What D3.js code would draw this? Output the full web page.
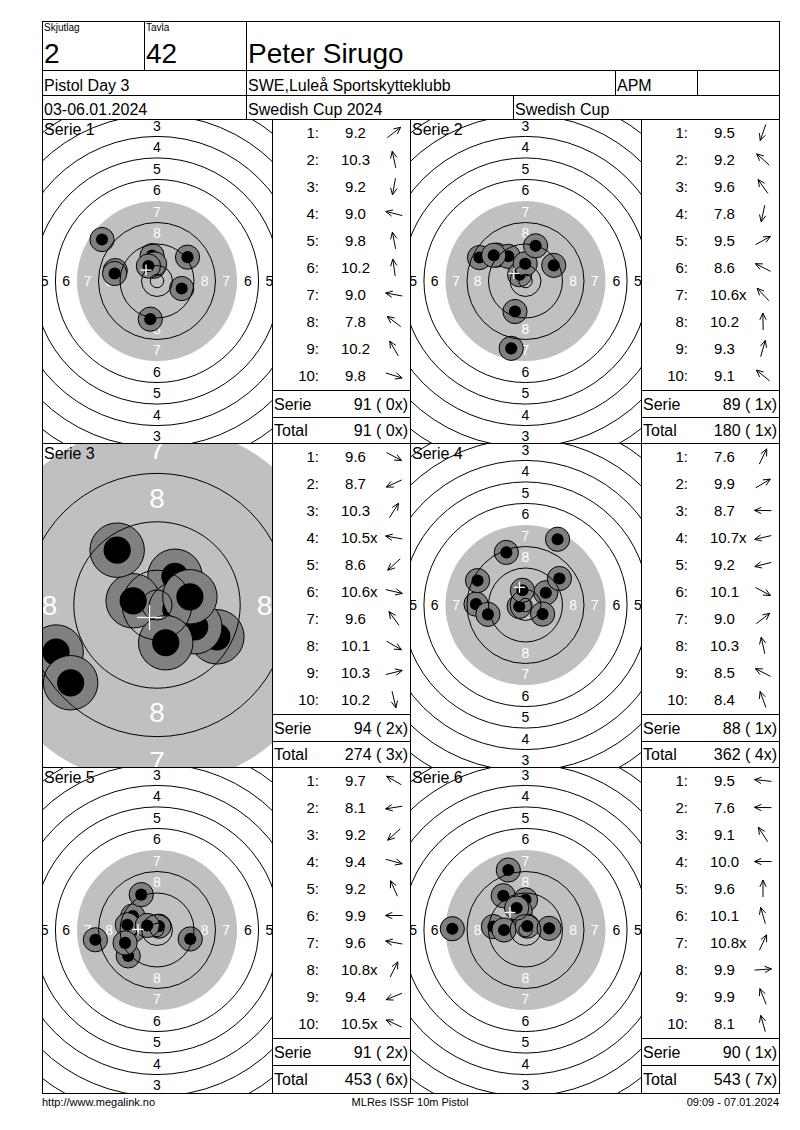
<!DOCTYPE html>
<html>
<head>
<meta charset="utf-8">
<script src="https://cdn.jsdelivr.net/npm/d3@7"></script>
<style>
  body { margin: 0; background: #fff; }
  svg text { font-family: "Liberation Sans", Arial, sans-serif; white-space: pre; }
</style>
</head>
<body>
<div id="card"></div>
<script>
const headerLabels = ["Skjutlag", "Tavla"];
const headerValues = ["2", "42"];
const shooterName = "Peter Sirugo";
const infoRow1 = ["Pistol Day 3", "SWE,Luleå Sportskytteklubb", "APM", ""];
const infoRow2 = ["03-06.01.2024", "Swedish Cup 2024", "Swedish Cup"];
const footerTexts = ["http://www.megalink.no", "MLRes ISSF 10m Pistol", "09:09 - 07.01.2024"];

const serieNames = ["Serie 1", "Serie 2", "Serie 3", "Serie 4", "Serie 5", "Serie 6"];
const serieScores = [
    [9.2, 10.3, 9.2, 9.0, 9.8, 10.2, 9.0, 7.8, 10.2, 9.8],
    [9.5, 9.2, 9.6, 7.8, 9.5, 8.6, 10.6, 10.2, 9.3, 9.1],
    [9.6, 8.7, 10.3, 10.5, 8.6, 10.6, 9.6, 10.1, 10.3, 10.2],
    [7.6, 9.9, 8.7, 10.7, 9.2, 10.1, 9.0, 10.3, 8.5, 8.4],
    [9.7, 8.1, 9.2, 9.4, 9.2, 9.9, 9.6, 10.8, 9.4, 10.5],
    [9.5, 7.6, 9.1, 10.0, 9.6, 10.1, 10.8, 9.9, 9.9, 8.1]
];
// direction of each shot from the centre, degrees (0 = right, 90 = up)
const shotAngles = [
    [38, 102, 260, 166, 101, 98, 170, 143, 120, -17],
    [251, 138, 125, 258, 29, 153, 133, 91, 74, 141],
    [-28, 205, 58, 170, 222, -13, 126, -30, 14, 283],
    [64, 31, 179, 193, 194, -28, 38, 102, 153, 110],
    [150, 189, 222, -15, 114, 180, 170, 63, 202, 155],
    [174, 179, 123, 180, 90, 106, 65, 4, 112, 106]
];
const targetZoom = [1, 1, 2.25, 1, 1, 1];

// ---- layout ----
const W = 800, H = 1130;
const box = { left: 42, right: 779, top: 21, bottom: 1093 };
const headerY = [21, 70, 95, 119];
const panelY = [119, 443, 767, 1093];
const targetX = [42, 410];
const tableX = [272, 641];
const tableEnd = [410, 779];
const PX_PER_MM = 2.69;
const ROW_H = 27;

const svg = d3.select("#card").append("svg")
    .attr("width", W).attr("height", H)
    .attr("viewBox", `0 0 ${W} ${H}`);

const defs = svg.append("defs");

function line(g, x1, y1, x2, y2) {
    g.append("line")
        .attr("x1", x1).attr("y1", y1).attr("x2", x2).attr("y2", y2)
        .attr("stroke", "#000").attr("stroke-width", 1)
        .attr("shape-rendering", "crispEdges");
}

function label(g, x, y, txt, size, anchor = "start", fill = "#000") {
    return g.append("text")
        .attr("x", x).attr("y", y)
        .attr("font-size", size)
        .attr("text-anchor", anchor)
        .attr("fill", fill)
        .text(txt);
}

// ---- targets ----
function ringRadius(n) { return 5.75 + 8 * (10 - n); }   // mm, ISSF 10m air pistol

function drawTarget(i) {
    const col = i % 2, row = Math.floor(i / 2);
    const x0 = targetX[col], x1 = tableX[col];
    const y0 = panelY[row], y1 = panelY[row + 1];
    const cx = (x0 + x1) / 2, cy = (y0 + y1) / 2;
    const zoom = targetZoom[i];
    const k = PX_PER_MM * zoom;

    const x = d3.scaleLinear().domain([0, 1]).range([cx, cx + k]);
    const y = d3.scaleLinear().domain([0, 1]).range([cy, cy - k]);

    defs.append("clipPath").attr("id", "clip" + i)
        .append("rect").attr("x", x0).attr("y", y0)
        .attr("width", x1 - x0).attr("height", y1 - y0);

    const g = svg.append("g").attr("clip-path", `url(#clip${i})`);

    // aiming area (7 ring and inside)
    g.append("circle").attr("cx", x(0)).attr("cy", y(0))
        .attr("r", x(ringRadius(7)) - x(0)).attr("fill", "#c0c0c0");

    // ring numbers, only those that reach into the panel
    const fs = 14 * Math.pow(zoom, 0.85);
    const nums = [];
    d3.range(1, 9).forEach(n => {
        const rr = ringRadius(n) - 4;
        [[0, rr], [0, -rr], [rr, 0], [-rr, 0]].forEach(p => nums.push({ n, p }));
    });
    const visible = nums.filter(d => {
        const px = x(d.p[0]), py = y(d.p[1]);
        return px > x0 - fs * 0.2 && px < x1 + fs * 0.2 && py > y0 - fs * 0.2 && py < y1 + fs * 0.2;
    });
    g.selectAll("text.num").data(visible).join("text")
        .attr("class", "num")
        .attr("x", d => x(d.p[0])).attr("y", d => y(d.p[1]))
        .attr("dy", "0.36em")
        .attr("text-anchor", "middle")
        .attr("font-size", fs)
        .attr("fill", d => d.n >= 7 ? "#fff" : "#000")
        .text(d => d.n);

    // shots
    const shots = serieScores[i].map((s, j) => {
        const dist = (11 - s) * 8;
        const a = shotAngles[i][j] * Math.PI / 180;
        return { mx: dist * Math.cos(a), my: dist * Math.sin(a) };
    });
    const sg = g.selectAll("g.shot").data(shots).join("g").attr("class", "shot");
    sg.append("circle")
        .attr("cx", d => x(d.mx)).attr("cy", d => y(d.my))
        .attr("r", x(4.5) - x(0))
        .attr("fill", "#808080").attr("stroke", "#000").attr("stroke-width", 1);
    sg.append("circle")
        .attr("cx", d => x(d.mx)).attr("cy", d => y(d.my))
        .attr("r", x(2.25) - x(0))
        .attr("fill", "#000");

    // ring lines
    const rings = d3.range(1, 11).filter(n => n !== 7).map(ringRadius).concat([2.5]);
    g.selectAll("circle.ring").data(rings).join("circle")
        .attr("class", "ring")
        .attr("cx", x(0)).attr("cy", y(0))
        .attr("r", d => x(d) - x(0))
        .attr("fill", "none").attr("stroke", "#000").attr("stroke-width", 1);

    // mean point of impact
    const mx = d3.mean(shots, d => d.mx), my = d3.mean(shots, d => d.my);
    const c = 5.5 * zoom;
    [[-c, 0, c, 0], [0, -c, 0, c]].forEach(s => {
        g.append("line")
            .attr("x1", x(mx) + s[0]).attr("y1", y(my) + s[1])
            .attr("x2", x(mx) + s[2]).attr("y2", y(my) + s[3])
            .attr("stroke", "#fff").attr("stroke-width", 1.3);
    });

    label(g, x0 + 2, y0 + 15.5, serieNames[i], 16);
}

// ---- score tables ----
function drawArrow(g, cx, cy, deg) {
    const a = deg * Math.PI / 180;
    const ux = Math.cos(a), uy = -Math.sin(a);
    const L = 17, hl = 7.5, ha = 25 * Math.PI / 180;
    const tx = cx + ux * L / 2, ty = cy + uy * L / 2;
    const path = d3.path();
    path.moveTo(cx - ux * L / 2, cy - uy * L / 2);
    path.lineTo(tx, ty);
    [ha, -ha].forEach(b => {
        const bx = ux * Math.cos(b) - uy * Math.sin(b);
        const by = ux * Math.sin(b) + uy * Math.cos(b);
        path.moveTo(tx, ty);
        path.lineTo(tx - bx * hl, ty - by * hl);
    });
    g.append("path").attr("d", path.toString())
        .attr("fill", "none").attr("stroke", "#000").attr("stroke-width", 1);
}

function drawTable(i, runningTotal) {
    const col = i % 2, row = Math.floor(i / 2);
    const x0 = tableX[col], x1 = tableEnd[col];
    const y0 = panelY[row];
    const g = svg.append("g");
    const rowY = d3.scaleLinear().domain([0, 1]).range([y0 + ROW_H / 2, y0 + ROW_H * 1.5]);

    serieScores[i].forEach((s, j) => {
        const yb = rowY(j) + 5.5;
        label(g, x0 + 47, yb, `${j + 1}:`, 15, "end");
        const t = label(g, x0 + 83.5, yb, s.toFixed(1), 15, "middle");
        if (s >= 10.5) {
            const w = t.node().getComputedTextLength();
            label(g, x0 + 83.5 + w / 2, yb, "x", 15);
        }
        drawArrow(g, x0 + 122, rowY(j), shotAngles[i][j]);
    });

    const sum = d3.sum(serieScores[i], s => Math.floor(s));
    const xs = serieScores[i].filter(s => s >= 10.5).length;
    const fmt = (v, n) => `${v} (${String(n).padStart(2)}x)`;

    const ySep1 = y0 + 271, ySep2 = y0 + 298;
    line(g, x0, ySep1, x1, ySep1);
    line(g, x0, ySep2, x1, ySep2);
    label(g, x0 + 2, (ySep1 + ySep2) / 2 + 6, "Serie", 16);
    label(g, x1 - 2, (ySep1 + ySep2) / 2 + 6, fmt(sum, xs), 16, "end");
    label(g, x0 + 2, (ySep2 + panelY[row + 1]) / 2 + 6, "Total", 16);
    label(g, x1 - 2, (ySep2 + panelY[row + 1]) / 2 + 6,
        fmt(runningTotal.sum, runningTotal.xs), 16, "end");
}

// draw panels
const running = { sum: 0, xs: 0 };
serieScores.forEach((scores, i) => {
    drawTarget(i);
    running.sum += d3.sum(scores, s => Math.floor(s));
    running.xs += scores.filter(s => s >= 10.5).length;
    drawTable(i, running);
});

// ---- header and grid lines ----
const grid = svg.append("g");
grid.append("rect")
    .attr("x", box.left).attr("y", box.top)
    .attr("width", box.right - box.left).attr("height", box.bottom - box.top)
    .attr("fill", "none").attr("stroke", "#000").attr("stroke-width", 1)
    .attr("shape-rendering", "crispEdges");
headerY.slice(1).forEach(yy => line(grid, box.left, yy, box.right, yy));
line(grid, 144, headerY[0], 144, headerY[1]);
line(grid, 246, headerY[0], 246, headerY[3]);
line(grid, 615, headerY[1], 615, headerY[2]);
line(grid, 697, headerY[1], 697, headerY[2]);
line(grid, 513, headerY[2], 513, headerY[3]);
panelY.slice(1, 3).forEach(yy => line(grid, box.left, yy, box.right, yy));
[tableX[0], tableEnd[0], tableX[1]].forEach(xx => line(grid, xx, panelY[0], xx, box.bottom));

label(grid, 44, 31, headerLabels[0], 10);
label(grid, 146, 31, headerLabels[1], 10);
label(grid, 44, 63, headerValues[0], 28);
label(grid, 146, 63, headerValues[1], 28);
label(grid, 248, 63, shooterName, 28);

[44, 248, 617, 699].forEach((xx, j) => label(grid, xx, 91, infoRow1[j], 16));
[44, 248, 515].forEach((xx, j) => label(grid, xx, 115, infoRow2[j], 16));

// ---- footer ----
label(svg, 42, 1106, footerTexts[0], 11);
label(svg, 410, 1106, footerTexts[1], 11, "middle");
label(svg, 779, 1106, footerTexts[2], 11, "end");
</script>
</body>
</html>
